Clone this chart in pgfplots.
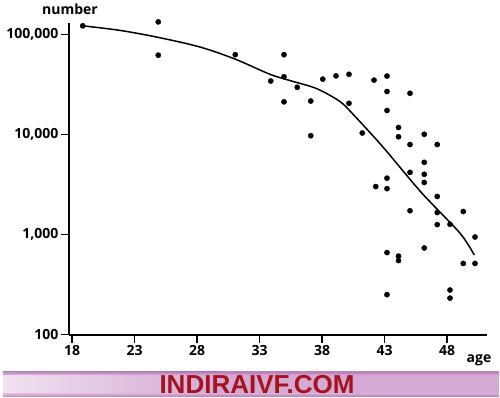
\documentclass[border=0pt]{standalone}
\usepackage{pgfplots}
\pgfplotsset{compat=1.18}
\usepackage{fontspec}
\setmainfont{Open Sans}
\newfontfamily\bannerfont{Liberation Sans}
\begin{document}
\begin{tikzpicture}
\useasboundingbox (-69pt,-63pt) rectangle (431pt,335pt);
\begin{axis}[
  scale only axis,
  width=418pt, height=312pt,
  xmin=17.76, xmax=51.2,
  ymode=log, ymin=98.4, ymax=129700,
  axis lines=left,
  axis line style={-, line width=1.4pt},
  tick style={line width=1.4pt, black},
  tick align=outside,
  major tick length=8pt,
  yminorticks=false,
  xtick={18,23,28,33,38,43,48},
  xticklabels={18,23,28,33,38,43,48},
  ytick={100,1000,10000,100000},
  yticklabels={{100},{1,000},{10,000},{100,000}},
  tick label style={font=\bfseries\fontsize{14}{16}\selectfont, text=black},
  yticklabel style={xshift=1pt},
  xticklabel style={yshift=1pt},
  clip=false,
]
\addplot[black, line width=1.5pt, smooth, tension=0.5] coordinates {
(18.86,121500) (21.84,109400) (24.9,93100) (28.24,74600) (31.06,56400)
(33.84,39800) (35.6,34000) (37.58,28600)
(39.44,21250) (40.6,15300) (42.9,7400)
(45.98,2590) (49.04,1025) (50.18,620)
};
\addplot[only marks, mark=*, mark size=2.6pt, black] coordinates {
(18.86,121500) (24.9,133000) (24.9,61800) (31.06,62500) (33.9,34100)
(34.96,62500) (34.96,37600) (34.96,21100) (36.02,29500) (37.1,21500)
(37.1,9670) (38.06,35600) (39.12,38400) (40.16,39800) (40.16,20400)
(41.22,10300) (42.16,34800) (43.2,38200) (43.2,26800) (43.2,17300)
(44.12,11700) (44.12,9440) (45.04,25700) (46.18,10000) (45.04,7900)
(47.22,7900) (46.18,5240) (45.04,4160) (46.18,3980) (46.18,3300)
(43.2,3640) (42.3,3000) (43.2,2860) (47.22,2390) (45.04,1720)
(47.22,1650) (49.3,1690) (47.22,1250) (48.24,1260) (50.24,940)
(46.18,730) (43.2,656) (44.12,605) (44.12,546) (49.3,511)
(50.24,511) (43.2,249) (48.24,277) (48.24,230)
};
\end{axis}
\node[font=\bfseries\fontsize{14}{16}\selectfont] at (1pt,325.7pt) {number};
\node[font=\bfseries\fontsize{14}{16}\selectfont] at (410pt,-25.7pt) {age};
\definecolor{bannerdark}{RGB}{170,100,170}
\definecolor{bannermid}{RGB}{212,170,212}
\definecolor{bannerlight}{RGB}{240,225,240}
\shade[left color=bannerlight, right color=bannermid] (-66pt,-36.7pt) rectangle (150pt,-62pt);
\fill[bannermid] (150pt,-36.7pt) rectangle (430pt,-62pt);
\shade[top color=bannerdark, bottom color=bannermid, opacity=0.7] (-66pt,-36.7pt) rectangle (430pt,-40pt);
\shade[top color=bannermid, bottom color=bannerdark, opacity=0.7] (-66pt,-58.5pt) rectangle (430pt,-62pt);
\node[inner sep=0pt, font=\bannerfont\bfseries\fontsize{26}{26}\selectfont, text={rgb,255:red,165;green,20;blue,30}] at (188pt,-49.5pt) {INDIRAIVF.COM};
\end{tikzpicture}
\end{document}
